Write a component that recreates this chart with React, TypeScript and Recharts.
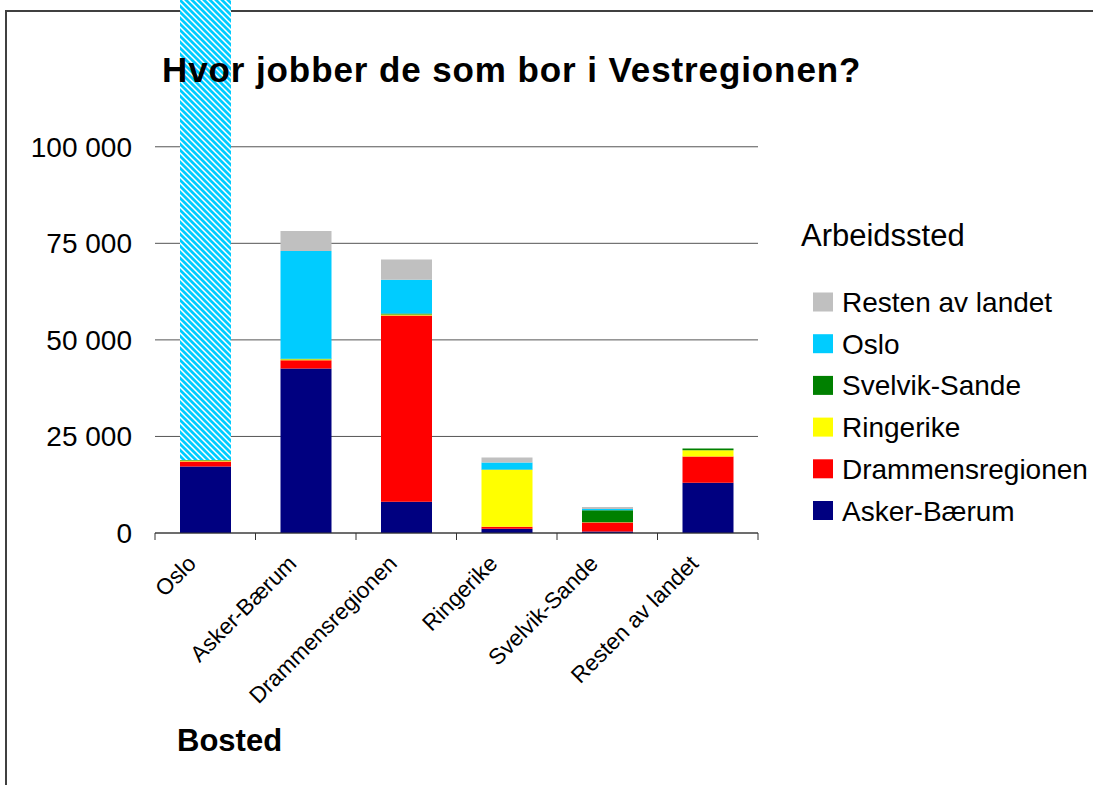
import { Bar, BarChart, CartesianGrid, Cell, XAxis, YAxis } from 'recharts';

const BOSTED = ['Oslo', 'Asker-Bærum', 'Drammensregionen', 'Ringerike', 'Svelvik-Sande', 'Resten av landet'];

// Arbeidssted, stacked bottom to top
const ASKER_BAERUM = [17200, 42600, 8100, 1100, 400, 13000];
const DRAMMENSREGIONEN = [1300, 2100, 48200, 500, 2300, 6800];
const RINGERIKE = [300, 300, 300, 14800, 100, 1600];
const SVELVIK_SANDE = [100, 100, 200, 50, 3100, 500];
const OSLO = [290000, 27900, 8800, 1800, 300, 0];
const RESTEN = [20000, 5200, 5200, 1300, 500, 0];

const Y_TICKS = [0, 25000, 50000, 75000, 100000];

const SERIES = [
  { key: 'askerBaerum', name: 'Asker-Bærum', color: '#000080', values: ASKER_BAERUM },
  { key: 'drammensregionen', name: 'Drammensregionen', color: '#FF0000', values: DRAMMENSREGIONEN },
  { key: 'ringerike', name: 'Ringerike', color: '#FFFF00', values: RINGERIKE },
  { key: 'svelvikSande', name: 'Svelvik-Sande', color: '#008000', values: SVELVIK_SANDE },
  { key: 'oslo', name: 'Oslo', color: '#00CCFF', values: OSLO },
  { key: 'resten', name: 'Resten av landet', color: '#C0C0C0', values: RESTEN },
];

const data = BOSTED.map((bosted, i) => {
  const row: Record<string, string | number> = { bosted };
  SERIES.forEach((s) => {
    row[s.key] = s.values[i];
  });
  return row;
});

const FONT = '"Liberation Sans", Arial, sans-serif';

const formatTick = (v: number) => String(v).replace(/\B(?=(\d{3})+(?!\d))/g, ' ');

// category label plus Excel-style tick marks on the category boundaries
function BostedTick({ x, y, payload, index }: any) {
  const half = payload?.offset ?? 0;
  const last = index === BOSTED.length - 1;
  return (
    <g>
      {half > 0 && <line x1={x - half} x2={x - half} y1={y} y2={y + 7} stroke="#333" />}
      {half > 0 && last && <line x1={x + half} x2={x + half} y1={y} y2={y + 7} stroke="#333" />}
      <text
        transform={`translate(${x - 8},${y + 32}) rotate(-45)`}
        textAnchor="end"
        fontSize={22.5}
        fontFamily={FONT}
        fill="#000"
      >
        {payload.value}
      </text>
    </g>
  );
}

export default function App() {
  const legendItems = [...SERIES].reverse();
  return (
    <div
      style={{
        position: 'absolute',
        left: 0,
        top: 0,
        width: 1093,
        height: 785,
        overflow: 'hidden',
        background: '#fff',
      }}
    >
      <div
        style={{
          position: 'absolute',
          left: 5,
          top: 10,
          width: 1200,
          height: 900,
          border: '2px solid #404040',
          boxSizing: 'border-box',
        }}
      />
      <svg width={0} height={0} style={{ position: 'absolute' }}>
        <defs>
          <pattern id="osloHatch" width={6} height={6} patternUnits="userSpaceOnUse">
            <rect width={6} height={6} fill="#fff" />
            <path d="M0,0 L6,6 M-1,5 L1,7 M5,-1 L7,1" stroke="#00CCFF" strokeWidth={2.8} />
          </pattern>
        </defs>
      </svg>
      <div style={{ position: 'absolute', left: 0, top: 0 }}>
        <BarChart
          width={1093}
          height={785}
          data={data}
          margin={{ top: 0, right: 335, bottom: 0, left: 0 }}
          barSize={51}
        >
          <CartesianGrid vertical={false} stroke="#555" syncWithTicks />
          <XAxis
            dataKey="bosted"
            height={252}
            interval={0}
            tickLine={false}
            tickSize={0}
            tickMargin={0}
            axisLine={{ stroke: '#333' }}
            tick={<BostedTick />}
          />
          <YAxis
            width={155}
            domain={[0, 138000]}
            allowDataOverflow
            ticks={Y_TICKS}
            tickFormatter={formatTick}
            axisLine={false}
            tickLine={false}
            tickSize={6}
            tickMargin={17}
            tick={{ fontSize: 28, fill: '#000', fontFamily: FONT }}
          />
          {SERIES.map((s) => (
            <Bar key={s.key} dataKey={s.key} name={s.name} stackId="a" fill={s.color} isAnimationActive={false}>
              {s.key === 'oslo'
                ? data.map((row) => (
                    <Cell key={row.bosted as string} fill={row.bosted === 'Oslo' ? 'url(#osloHatch)' : s.color} />
                  ))
                : null}
            </Bar>
          ))}
        </BarChart>
      </div>
      <svg
        width={1093}
        height={785}
        style={{ position: 'absolute', left: 0, top: 0, pointerEvents: 'none' }}
        fontFamily={FONT}
      >
        <text x={162} y={82} fontSize={35} fontWeight="bold" letterSpacing={0.9} fill="#000">
          Hvor jobber de som bor i Vestregionen?
        </text>
        <text x={177} y={751} fontSize={31} fontWeight="bold" fill="#000">
          Bosted
        </text>
        <text x={801} y={246} fontSize={31} fill="#000">
          Arbeidssted
        </text>
        {legendItems.map((s, i) => {
          const cy = 302 + i * 41.7;
          return (
            <g key={s.key}>
              <rect x={813} y={cy - 9.5} width={20} height={19} fill={s.color} />
              <text x={842} y={cy + 10} fontSize={28} fill="#000">
                {s.name}
              </text>
            </g>
          );
        })}
      </svg>
    </div>
  );
}
